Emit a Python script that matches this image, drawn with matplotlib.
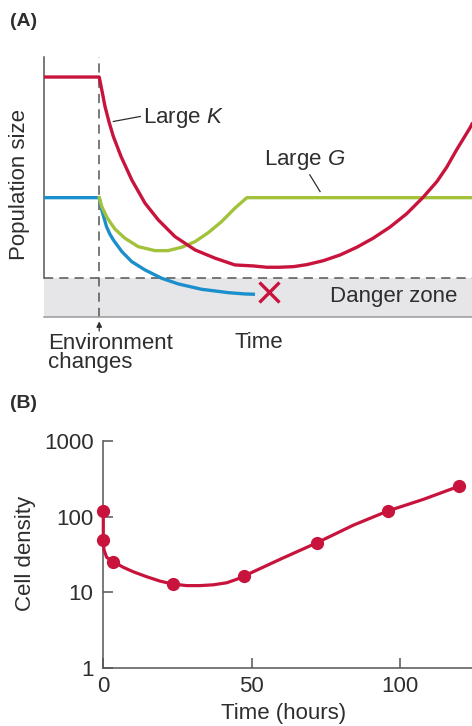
import numpy as np
import matplotlib
matplotlib.use('Agg')
import matplotlib.pyplot as plt

plt.rcParams['font.family'] = ['Liberation Sans', 'DejaVu Sans']
plt.rcParams['mathtext.fontset'] = 'custom'
plt.rcParams['mathtext.rm'] = 'Liberation Sans'
plt.rcParams['mathtext.it'] = 'Liberation Sans:italic'

# Panel A - schematic curves (time, population size)
red_t = [0, 1.29, 1.36, 1.425, 1.52, 1.62, 1.80, 2.05, 2.36, 2.67, 3.06, 3.53, 4.00, 4.46, 4.89,
         5.20, 5.51, 5.83, 6.14, 6.53, 6.92, 7.31, 7.69, 8.08, 8.47, 8.86, 9.18, 9.41, 9.64, 9.95, 10.0]
red_s = [20.1, 20.1, 18.6, 17.16, 15.6, 14.16, 12.16, 9.83, 7.5, 5.83, 4.16, 2.83, 2.0, 1.33, 1.23,
         1.10, 1.10, 1.16, 1.36, 1.76, 2.33, 3.1, 4.0, 5.1, 6.43, 8.1, 9.66, 11.1, 12.83, 15.0, 15.4]

green_t = [1.29, 1.35, 1.46, 1.56, 1.66, 1.89, 2.20, 2.59, 2.90, 3.22, 3.53, 3.84, 4.15, 4.46, 4.70, 4.74, 10.0]
green_s = [8.05, 7.16, 6.16, 5.5, 4.9, 4.0, 3.16, 2.76, 2.76, 3.1, 3.66, 4.56, 5.66, 7.0, 7.9, 8.05, 8.05]

blue_t = [0, 1.29, 1.35, 1.46, 1.54, 1.62, 1.82, 2.05, 2.36, 2.75, 3.14, 3.68, 4.31, 4.70, 4.93]
blue_s = [8.05, 8.05, 6.83, 5.16, 4.4, 3.83, 2.66, 1.66, 0.83, 0.0, -0.57, -1.1, -1.44, -1.57, -1.6]

env_change = 1.29
extinct_t, extinct_s = 5.26, -1.34
danger_low = -3.84

# Panel B - cell density measurements
hours = [0, 0, 3.4, 23.4, 47.4, 72, 96, 120]
density = [120, 49, 25.2, 12.8, 16.3, 45, 119, 253]
# smooth curve
curve_h = [0, 0, 0.24, 1.13, 3.4, 6.74, 10.1, 14.6, 19.1, 23.4, 28.1, 32.6, 37.1, 41.6, 45.0, 47.4,
           59.6, 72, 84.3, 96, 107.9, 120]
curve_d = [120, 49, 36.1, 28.9, 25.2, 21.3, 18.6, 16.0, 14.0, 12.8, 12.2, 12.2, 12.5, 13.3, 14.8, 16.3,
           27.2, 45, 77, 119, 169, 253]

red = '#c8143c'
blue = '#1b8fcb'
green = '#a3c23c'
txt = '#2e2e2e'
axc = '#555555'
fs = 16

fig = plt.figure(figsize=(4.72, 7.26), dpi=100)

# ---------- (A) ----------
ax = fig.add_axes([44/472, 1-316.7/726, 428/472, (316.7-57)/726])
ax.set_xlim(0, 10)
ax.set_ylim(danger_low, 22.1)
ax.axhspan(danger_low, 0, color='#e6e6e8', lw=0, zorder=0)
ax.axhline(0, color=axc, lw=1.1, ls=(0, (6, 4)), zorder=1)
ax.axvline(env_change, color=axc, lw=1.1, ls=(0, (6, 4)), zorder=1)

ax.plot(blue_t, blue_s, color=blue, lw=2.4, solid_capstyle='butt', solid_joinstyle='round', zorder=3)
ax.plot(green_t, green_s, color=green, lw=2.4, solid_joinstyle='round', zorder=3)
ax.plot(red_t, red_s, color=red, lw=2.4, solid_joinstyle='round', zorder=4)
ax.plot([extinct_t], [extinct_s], marker='x', color=red, ms=15, mew=2.4, zorder=5)

for s in ['top', 'right']:
    ax.spines[s].set_visible(False)
ax.spines['left'].set_bounds(0, 22.1)
ax.spines['left'].set_color(axc)
ax.spines['left'].set_linewidth(1.1)
ax.spines['bottom'].set_color('#9a9a9a')
ax.spines['bottom'].set_linewidth(1.1)
ax.set_xticks([])
ax.set_yticks([])

# labels and leaders
ax.text(2.32, 16.0, 'Large $K$', fontsize=fs, color=txt, va='center', ha='left')
ax.plot([1.62, 2.25], [15.66, 16.16], color=txt, lw=0.9)
ax.text(5.14, 11.83, 'Large $G$', fontsize=fs, color=txt, va='center', ha='left')
ax.plot([6.21, 6.45], [10.33, 8.66], color=txt, lw=0.9)
ax.text(6.68, -1.87, 'Danger zone', fontsize=fs, color=txt, va='center', ha='left')

# small arrow under the dashed line
ax.annotate('', xy=(env_change, -0.018), xytext=(env_change, -0.055),
            xycoords=('data', 'axes fraction'), textcoords=('data', 'axes fraction'),
            arrowprops=dict(arrowstyle='-|>', color=txt, lw=0.9, mutation_scale=8, shrinkA=0, shrinkB=0))

fig.text(10/472, 1-22/726, '(A)', fontsize=14, fontweight='bold', color=txt, va='center', ha='left')
fig.text(20/472, 1-185/726, 'Population size', fontsize=fs, color=txt, rotation=90, va='center', ha='center')
fig.text(259/472, 1-342/726, 'Time', fontsize=fs, color=txt, va='center', ha='center')
fig.text(48/472, 1-353/726, 'Environment\nchanges', fontsize=fs, color=txt, va='center', ha='left', linespacing=0.92)

# ---------- (B) ----------
bx = fig.add_axes([103.3/472, 1-667.7/726, (472-103.3)/472, (667.7-441)/726])
bx.set_yscale('log')
bx.set_ylim(1, 1000)
bx.set_xlim(0, (472-103.3)/2.967)
bx.plot(curve_h, curve_d, color=red, lw=2.3, solid_joinstyle='round', clip_on=False, zorder=3)
bx.plot(hours, density, 'o', color=red, ms=8.5, clip_on=False, zorder=4)

for s in ['top', 'right']:
    bx.spines[s].set_visible(False)
for s in ['left', 'bottom']:
    bx.spines[s].set_color(axc)
    bx.spines[s].set_linewidth(1.1)
bx.set_yticks([1, 10, 100, 1000])
bx.set_yticklabels(['1', '10', '100', '1000'])
bx.yaxis.set_minor_locator(matplotlib.ticker.NullLocator())
bx.set_xticks([0, 50, 100])
bx.set_xticklabels(['0', '50', '100'])
bx.tick_params(direction='in', length=7, width=1.1, color=axc, labelsize=fs, labelcolor=txt)
bx.tick_params(axis='y', pad=7)
bx.tick_params(axis='x', pad=6)

fig.text(10/472, 1-403/726, '(B)', fontsize=14, fontweight='bold', color=txt, va='center', ha='left')
fig.text(25/472, 1-553/726, 'Cell density', fontsize=fs, color=txt, rotation=90, va='center', ha='center')
fig.text(284/472, 1-714/726, 'Time (hours)', fontsize=fs, color=txt, va='center', ha='center')

fig.savefig('out.png', dpi=100)
